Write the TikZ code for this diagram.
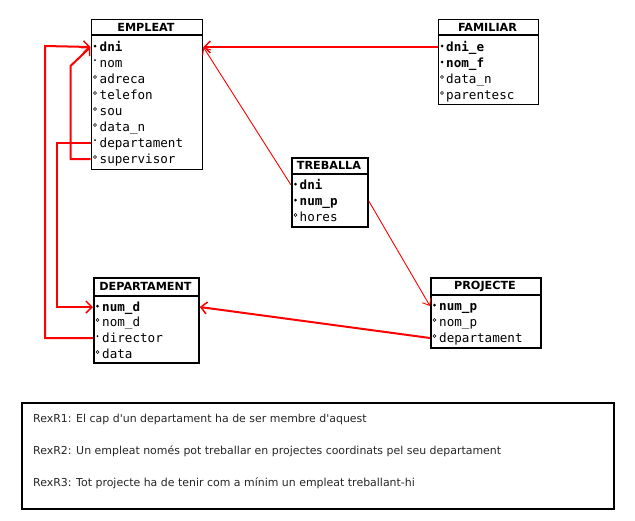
\documentclass[tikz,border=0pt]{standalone}
\usepackage{fontspec}
\setmainfont{DejaVu Sans}
\setmonofont{DejaVu Sans Mono}
\newfontfamily\legfont{DejaVu Sans}[Ligatures=ResetAll]
\usetikzlibrary{arrows.meta}
\tikzset{
  ent/.style={draw=black, line width=1.8pt, anchor=north west, inner sep=0pt},
  ttl/.style={font=\fontsize{11.2}{13}\selectfont\bfseries, inner sep=0pt},
  att/.style={font=\fontsize{12.6}{14}\ttfamily, anchor=west, inner sep=0pt, text height=8pt, text depth=0pt},
  sepline/.style={line width=1.6pt},
  pk/.style={fill=black},
  nn/.style={fill=black},
  op/.style={draw=black, line width=0.6pt, fill=white},
  fk/.style={draw=red, line width=2pt, -{Straight Barb[length=6pt,width=12pt,line width=1.5pt]}},
  fkthin/.style={draw=red, line width=0.9pt, -{Straight Barb[length=6pt,width=10pt,line width=0.9pt]}},
  legtxt/.style={font=\legfont\fontsize{10.95}{12}\selectfont, text=black!85, anchor=west, inner sep=0pt}
}
\newcommand{\pkm}[2]{\fill[pk] (#1,#2) circle (1.5pt);}
\newcommand{\nnm}[2]{\fill[nn] (#1,#2) circle (1pt);}
\newcommand{\opm}[2]{\draw[op] (#1,#2) circle (1.5pt);}
\begin{document}
\begin{tikzpicture}[x=1pt,y=-1pt]
\useasboundingbox (0,0) rectangle (635,520);
\fill[white] (0,0) rectangle (635,520);

% EMPLEAT
\node[ent, minimum width=111pt, minimum height=150pt] (emp) at (90.5,18.5) {};
\node[ttl] (emp-t) at (146,27) {EMPLEAT};
\draw[sepline] (emp.west |- 0,35) -- (emp.east |- 0,35);
\node[att] (emp-dni) at (99.5,47) {\bfseries dni};
\node[att] (emp-nom) at (99.5,63) {nom};
\node[att] (emp-adr) at (99.5,79) {adreca};
\node[att] (emp-tel) at (99.5,95) {telefon};
\node[att] (emp-sou) at (99.5,111) {sou};
\node[att] (emp-dat) at (99.5,127) {data\_n};
\node[att] (emp-dep) at (99.5,143) {departament};
\node[att] (emp-sup) at (99.5,159) {supervisor};
\pkm{95}{46}\nnm{95}{60}\opm{95}{77}\opm{95}{93}\opm{95}{109}\opm{95}{125}\nnm{95}{140}\opm{95}{157}

% FAMILIAR
\node[ent, minimum width=100pt, minimum height=85pt] (fam) at (437.5,18.5) {};
\node[ttl] (fam-t) at (487.5,27) {FAMILIAR};
\draw[sepline] (fam.west |- 0,35) -- (fam.east |- 0,35);
\node[att] (fam-dni) at (446,47) {\bfseries dni\_e};
\node[att] (fam-nom) at (446,63) {\bfseries nom\_f};
\node[att] (fam-dat) at (446,79) {data\_n};
\node[att] (fam-par) at (446,95) {parentesc};
\pkm{442}{46}\pkm{442}{62}\opm{442}{77}\opm{442}{93}

% TREBALLA
\node[ent, minimum width=76pt, minimum height=69pt] (tre) at (291,157) {};
\node[ttl] (tre-t) at (329,165.5) {TREBALLA};
\draw[sepline] (tre.west |- 0,174) -- (tre.east |- 0,174);
\node[att] (tre-dni) at (299.5,185) {\bfseries dni};
\node[att] (tre-nump) at (299.5,201) {\bfseries num\_p};
\node[att] (tre-hor) at (299.5,217) {hores};
\pkm{295.5}{184}\pkm{295.5}{200}\opm{295.5}{215}

% DEPARTAMENT
\node[ent, minimum width=105pt, minimum height=85pt] (dep) at (93,277) {};
\node[ttl] (dep-t) at (145.5,286.5) {DEPARTAMENT};
\draw[sepline] (dep.west |- 0,296) -- (dep.east |- 0,296);
\node[att] (dep-num) at (102,307) {\bfseries num\_d};
\node[att] (dep-nom) at (102,322) {nom\_d};
\node[att] (dep-dir) at (102,338) {director};
\node[att] (dep-dat) at (102,354) {data};
\pkm{97.5}{306}\opm{97.5}{320}\nnm{97.5}{336}\opm{97.5}{352}

% PROJECTE
\node[ent, minimum width=110pt, minimum height=70pt] (pro) at (430,277) {};
\node[ttl] (pro-t) at (485,286.5) {PROJECTE};
\draw[sepline] (pro.west |- 0,295) -- (pro.east |- 0,295);
\node[att] (pro-num) at (439,306) {\bfseries num\_p};
\node[att] (pro-nom) at (439,322) {nom\_p};
\node[att] (pro-dep) at (439,338) {departament};
\pkm{434.5}{305}\opm{434.5}{320}\opm{434.5}{336}

% connectors
\draw[fk] (fam-dni -| fam.west) -- (emp-dni -| emp.east);
\draw[fkthin] (tre-dni -| tre.west) -- (emp-dni -| emp.east);
\draw[fkthin] (tre-nump -| tre.east) -- (pro-num -| pro.west);
\draw[fk] (pro-dep -| pro.west) -- (dep-num -| dep.east);
\draw[fk] (emp-dep -| emp.west) -- (57,143) -- (57,307) -- (dep-num -| dep.west);
\draw[fk] (emp-sup -| emp.west) -- (70.5,159) -- (70.5,66) -- (emp-dni -| emp.west);
\draw[fk] (dep-dir -| dep.west) -- (45,338) -- (45,46) -- (emp-dni -| emp.west);

% legend
\node[draw=black, line width=1.8pt, anchor=north west, minimum width=592pt, minimum height=106pt, inner sep=0pt] (leg) at (21,402) {};
\node[legtxt] (r1) at (33,419) {RexR1: El cap d'un departament ha de ser membre d'aquest};
\node[legtxt] (r2) at (33,451) {RexR2: Un empleat només pot treballar en projectes coordinats pel seu departament};
\node[legtxt] (r3) at (33,483) {RexR3: Tot projecte ha de tenir com a mínim un empleat treballant-hi};
\end{tikzpicture}
\end{document}
